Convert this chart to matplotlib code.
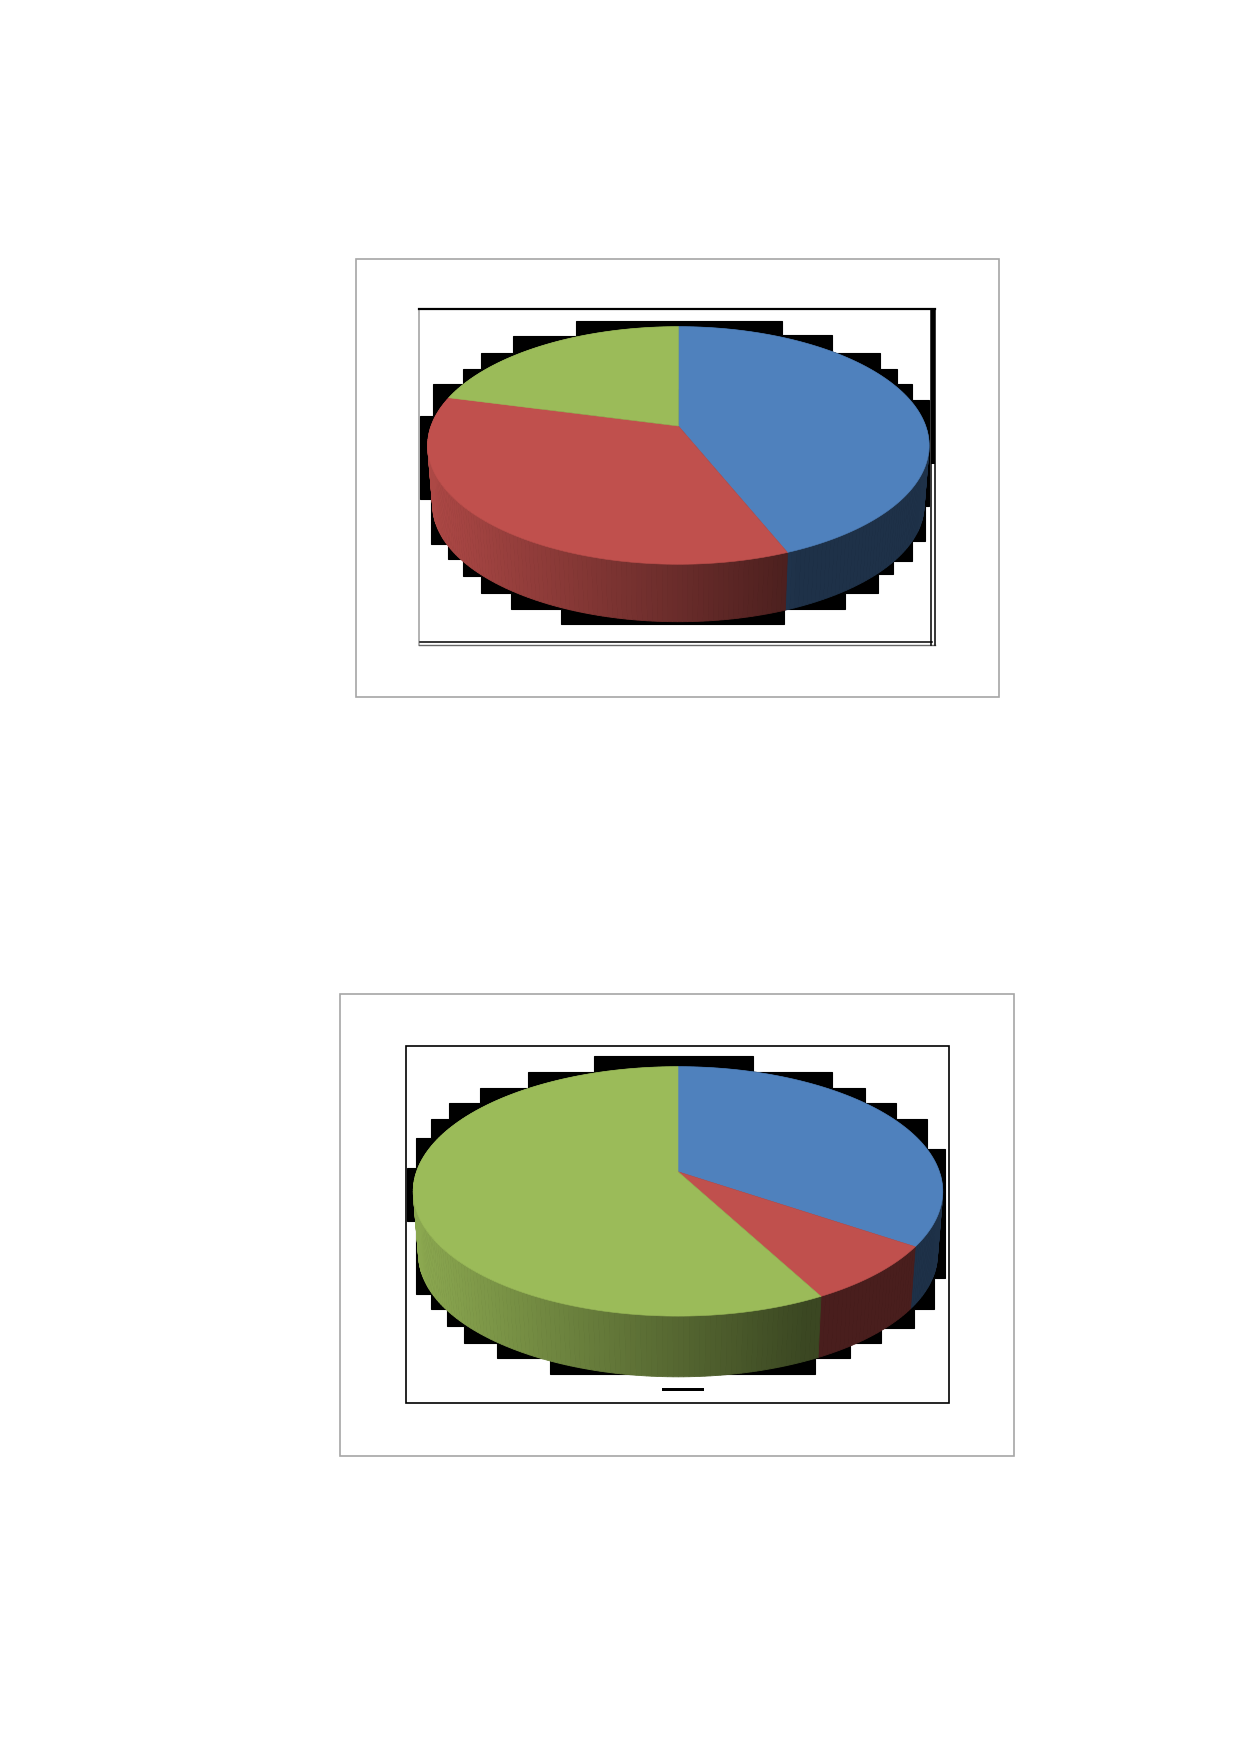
import numpy as np
import matplotlib
matplotlib.use('Agg')
import matplotlib.pyplot as plt
from matplotlib.patches import Polygon, Rectangle

# slice shares, clockwise from 12 o'clock
slice_names = ['blue', 'red', 'green']
top_shares = [0.439, 0.352, 0.209]
bottom_shares = [0.345, 0.077, 0.578]

slice_colors = {'blue': '#4f81bd', 'red': '#c0504d', 'green': '#9bbb59'}

# black stair-step halo, offsets in px from the centre of the ellipse
top_halo_x = [-258, -245, -215, -197, -165, -102, 104, 154, 202, 219, 234, 251]
top_halo_up = [-30, -62, -77, -93, -110, -125, -111, -93, -77, -62, -46]
top_halo_bx = [-258, -247, -230, -215, -197, -167, -117, 106, 167, 200, 215, 234, 247, 251]
top_halo_down = [53, 98, 113, 130, 147, 163, 178, 163, 147, 128, 115, 95, 60]

bottom_halo_x = [-271, -262, -247, -229, -198, -150, -84, 75, 154, 187, 218, 249, 267]
bottom_halo_up = [-23, -53, -72, -88, -103, -119, -135, -119, -103, -88, -72, -42]
bottom_halo_bx = [-271, -262, -247, -231, -214, -181, -128, 137, 172, 203, 236, 256, 267]
bottom_halo_down = [30, 103, 118, 135, 152, 167, 183, 167, 152, 137, 118, 87]


def rim(theta, geo, bottom=False):
    # perspective circle: the far side shrinks, the near side grows
    scale = 0.98 if bottom else 1.0
    cy = geo['y0'] + geo['depth'] if bottom else geo['y0']
    w = 1 + geo['k'] * np.cos(theta)
    x = geo['x0'] + scale * geo['A'] * np.sin(theta) / w
    y = cy - scale * geo['B'] * np.cos(theta) / w
    return x, y


def halo_outline(xs, ups, bxs, downs, geo):
    cx, cy = geo['x0'], geo['ey']
    pts = []
    for i, up in enumerate(ups):
        pts.append((cx + xs[i], cy + up))
        pts.append((cx + xs[i + 1], cy + up))
    for i in range(len(downs) - 1, -1, -1):
        pts.append((cx + bxs[i + 1], cy + downs[i]))
        pts.append((cx + bxs[i], cy + downs[i]))
    return pts


def draw_pie(ax, shares, halo, geo):
    ax.add_patch(Polygon(halo_outline(*halo, geo), closed=True, fc='black', ec='black', lw=0.8, zorder=2))

    edges = np.concatenate([[0], np.cumsum(shares)]) * 2 * np.pi
    left = geo['x0'] - geo['ea']
    width = 2 * geo['ea']

    # side wall, darker towards the right
    for name, start, end in zip(slice_names, edges[:-1], edges[1:]):
        base = np.array(matplotlib.colors.to_rgb(slice_colors[name]))
        steps = np.linspace(start, end, max(int(np.degrees(end - start)), 2) + 1)
        for t0, t1 in zip(steps[:-1], steps[1:]):
            x0, y0 = rim(t0, geo)
            x1, y1 = rim(t1, geo)
            x2, y2 = rim(t1, geo, bottom=True)
            x3, y3 = rim(t0, geo, bottom=True)
            frac = ((x0 + x1) / 2 - left) / width
            shade = max(0.38, 0.9 - 0.7 * frac)
            col = base * shade
            ax.add_patch(Polygon([(x0, y0), (x1, y1), (x2, y2), (x3, y3)], closed=True,
                                 fc=col, ec=col, lw=0.6, zorder=3))

    # top face
    for name, start, end in zip(slice_names, edges[:-1], edges[1:]):
        t = np.linspace(start, end, 200)
        x, y = rim(t, geo)
        pts = [(geo['x0'], geo['y0'])] + list(zip(x, y))
        ax.add_patch(Polygon(pts, closed=True, fc=slice_colors[name], ec=slice_colors[name],
                             lw=0.4, zorder=4))


fig = plt.figure(figsize=(12.39, 17.52), dpi=100)
ax = fig.add_axes([0, 0, 1, 1])
ax.set_xlim(0, 1239)
ax.set_ylim(1752, 0)
ax.axis('off')

# upper chart, its plot frame has uneven edges
ax.add_patch(Rectangle((355.5, 258.5), 643, 438, fc='white', ec='#a6a6a6', lw=1.2, zorder=1))
ax.plot([419, 419], [308.5, 645], color='#a6a6a6', lw=1.2, zorder=1)
ax.plot([419, 934.5], [309, 309], color='black', lw=1.6, zorder=1)
ax.plot([419, 935], [645, 645], color='#666666', lw=1, zorder=1)
ax.plot([420, 932], [641.5, 641.5], color='black', lw=1.1, zorder=1)
ax.plot([930.5, 930.5], [309, 645], color='black', lw=1.1, zorder=1)
ax.plot([934.5, 934.5], [309, 645], color='black', lw=1.1, zorder=1)
ax.add_patch(Rectangle((930.5, 309), 4, 155, fc='black', ec='none', zorder=1))
draw_pie(ax, top_shares, (top_halo_x, top_halo_up, top_halo_bx, top_halo_down),
         dict(x0=678.4, y0=426, A=247.3, B=115.6, k=0.164, depth=60.2,
              ea=250.7, eb=119, ey=445.5))

# lower chart
ax.add_patch(Rectangle((339.5, 994), 674.5, 461.5, fc='white', ec='#a6a6a6', lw=1.2, zorder=1))
ax.add_patch(Rectangle((405.8, 1046.3), 543.2, 357, fc='white', ec='black', lw=1.2, zorder=1))
ax.add_patch(Rectangle((662, 1388), 42, 3, fc='black', ec='none', zorder=2))
draw_pie(ax, bottom_shares, (bottom_halo_x, bottom_halo_up, bottom_halo_bx, bottom_halo_down),
         dict(x0=678, y0=1171.7, A=261.4, B=121.6, k=0.158, depth=63.6,
              ea=264.7, eb=124.6, ey=1191.3))

fig.savefig('out.png', dpi=100)
